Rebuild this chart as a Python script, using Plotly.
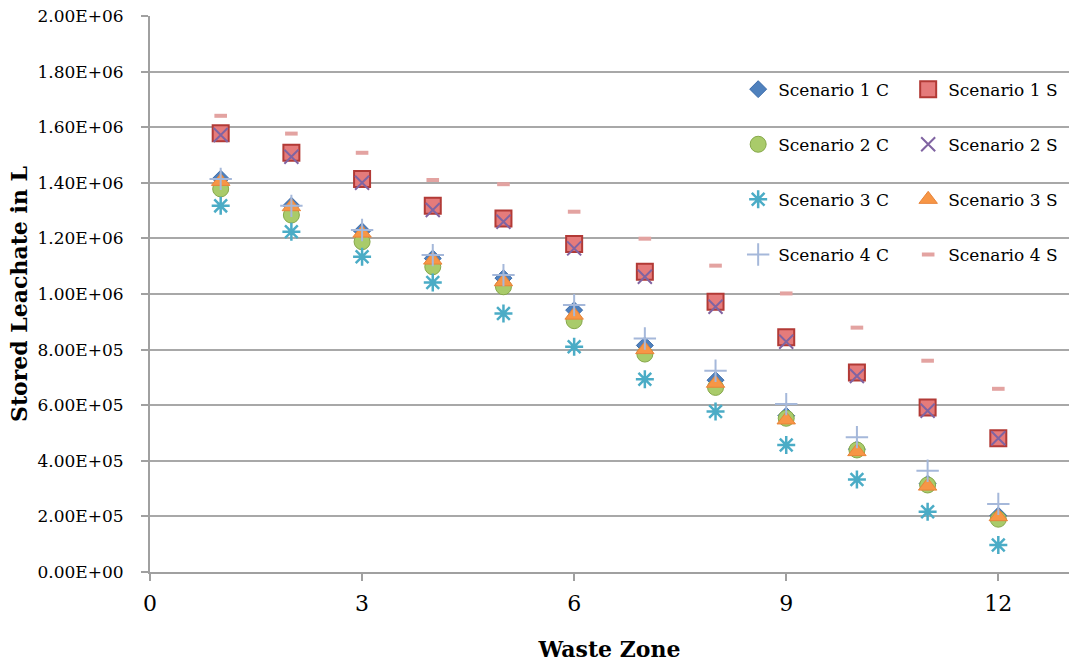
import plotly.graph_objects as go

zones = [1, 2, 3, 4, 5, 6, 7, 8, 9, 10, 11, 12]

s1c = [1.415e6, 1.318e6, 1.226e6, 1.128e6, 1.057e6, 0.942e6, 0.815e6, 0.690e6, 0.562e6, 0.442e6, 0.318e6, 0.203e6]
s1s = [1.578e6, 1.508e6, 1.414e6, 1.317e6, 1.272e6, 1.180e6, 1.080e6, 0.972e6, 0.844e6, 0.718e6, 0.592e6, 0.481e6]
s2c = [1.378e6, 1.284e6, 1.188e6, 1.098e6, 1.026e6, 0.904e6, 0.784e6, 0.664e6, 0.553e6, 0.439e6, 0.313e6, 0.190e6]
s2s = [1.572e6, 1.494e6, 1.400e6, 1.302e6, 1.260e6, 1.164e6, 1.062e6, 0.954e6, 0.828e6, 0.705e6, 0.580e6, 0.481e6]
s3c = [1.317e6, 1.224e6, 1.134e6, 1.041e6, 0.930e6, 0.810e6, 0.693e6, 0.577e6, 0.457e6, 0.333e6, 0.217e6, 0.097e6]
s3s = [1.405e6, 1.314e6, 1.219e6, 1.122e6, 1.044e6, 0.924e6, 0.800e6, 0.679e6, 0.547e6, 0.433e6, 0.309e6, 0.199e6]
s4c = [1.414e6, 1.317e6, 1.230e6, 1.140e6, 1.068e6, 0.960e6, 0.840e6, 0.724e6, 0.604e6, 0.485e6, 0.364e6, 0.245e6]
s4s = [1.641e6, 1.577e6, 1.508e6, 1.410e6, 1.395e6, 1.296e6, 1.199e6, 1.102e6, 1.002e6, 0.879e6, 0.760e6, 0.659e6]

names = ["Scenario 1 C", "Scenario 1 S", "Scenario 2 C", "Scenario 2 S",
         "Scenario 3 C", "Scenario 3 S", "Scenario 4 C", "Scenario 4 S"]

y_tickvals = [0, 2e5, 4e5, 6e5, 8e5, 1e6, 1.2e6, 1.4e6, 1.6e6, 1.8e6, 2e6]
y_ticktext = ["0.00E+00", "2.00E+05", "4.00E+05", "6.00E+05", "8.00E+05", "1.00E+06",
              "1.20E+06", "1.40E+06", "1.60E+06", "1.80E+06", "2.00E+06"]
x_tickvals = [0, 3, 6, 9, 12]

series = [s1c, s1s, s2c, s2s, s3c, s3s, s4c, s4s]
styles = [
    dict(symbol="diamond", size=13, color="#4F81BD", line=dict(color="#3A6AA8", width=1)),
    dict(symbol="square", size=16, color="#E57B7B", line=dict(color="#B23A36", width=2)),
    dict(symbol="circle", size=16, color="#A9CB6A", line=dict(color="#86A84A", width=1)),
    dict(symbol="x-thin-open", size=14, color="#8064A2", line=dict(color="#8064A2", width=2)),
    dict(symbol="asterisk-open", size=15, color="#4BACC6", line=dict(color="#4BACC6", width=2.5)),
    dict(symbol="triangle-up", size=16, color="#F79646", line=dict(color="#E8843A", width=1)),
    dict(symbol="cross-thin-open", size=16, color="#A5B8DA", line=dict(color="#A5B8DA", width=2)),
    dict(symbol="line-ew-open", size=9, color="#E3A3A1", line=dict(color="#E3A3A1", width=4)),
]

fig = go.Figure()
for i, (vals, nm, st) in enumerate(zip(series, names, styles)):
    fig.add_trace(go.Scatter(
        x=zones, y=vals, mode="markers", name=nm,
        marker=st,
        legend="legend" if i % 2 == 0 else "legend2",
        legendgroup=nm,
    ))

legend_common = dict(
    font=dict(family="DejaVu Serif", size=17, color="#000000"),
    bgcolor="rgba(0,0,0,0)", tracegroupgap=30, yanchor="top",
    itemwidth=30,
)

fig.update_layout(
    width=1069, height=664,
    margin=dict(l=150, r=0, t=16, b=92),
    paper_bgcolor="white", plot_bgcolor="white",
    showlegend=True,
    legend=dict(x=0.64, y=0.9, xanchor="left", **legend_common),
    legend2=dict(x=0.825, y=0.9, xanchor="left", **legend_common),
    xaxis=dict(
        range=[0, 13], tickvals=x_tickvals, showgrid=False, zeroline=False,
        showline=True, linecolor="#A0A0A0", linewidth=2,
        ticks="outside", ticklen=7, tickcolor="#A0A0A0", tickwidth=2,
        ticklabelstandoff=4,
        tickfont=dict(family="DejaVu Serif", size=22, color="#000000"),
        title=dict(text="<b>Waste Zone</b>", standoff=26,
                   font=dict(family="DejaVu Serif", size=22, color="#000000")),
    ),
    yaxis=dict(
        range=[0, 2e6], tickvals=y_tickvals, ticktext=y_ticktext,
        showgrid=True, gridcolor="#A8A8A8", gridwidth=2, zeroline=False,
        showline=True, linecolor="#A0A0A0", linewidth=2,
        ticks="outside", ticklen=7, tickcolor="#A0A0A0", tickwidth=2,
        ticklabelstandoff=14,
        tickfont=dict(family="DejaVu Serif", size=17, color="#000000"),
        title=dict(text="<b>Stored Leachate in L</b>", standoff=4,
                   font=dict(family="DejaVu Serif", size=22, color="#000000")),
    ),
)

fig.write_html("out.html")
